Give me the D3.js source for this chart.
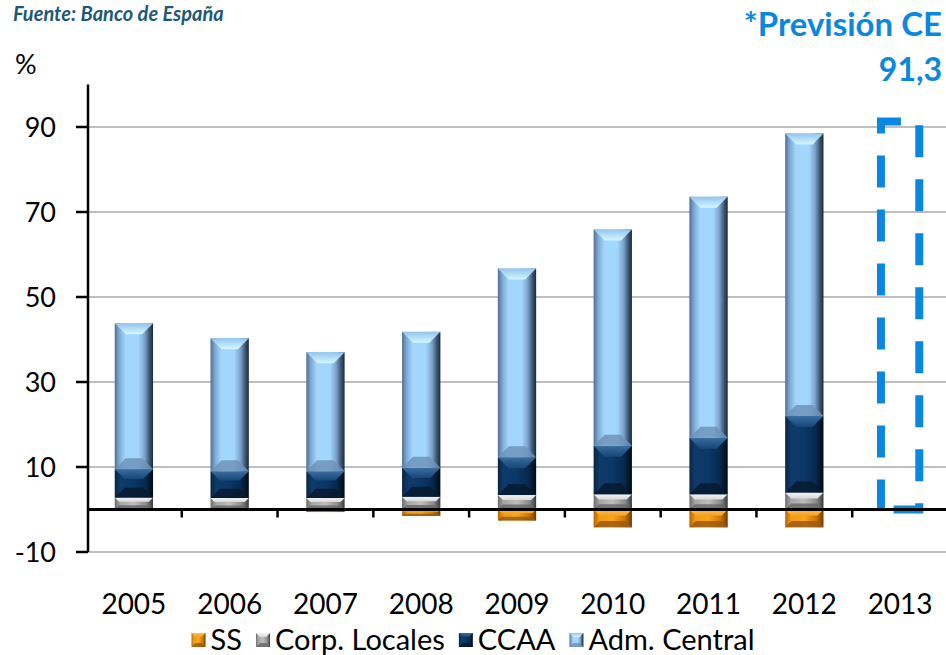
<!DOCTYPE html>
<html>
<head>
<meta charset="utf-8">
<script src="https://cdn.jsdelivr.net/npm/d3@7"></script>
<style>
  body { margin: 0; background: #fff; }
  text { font-family: Lato, "Open Sans", sans-serif; }
</style>
</head>
<body>
<div id="chart"></div>
<script>
const years = ["2005", "2006", "2007", "2008", "2009", "2010", "2011", "2012", "2013"];
const ss          = [0, 0, -0.6, -1.5, -2.6, -4.2, -4.2, -4.2, 0];
const corpLocales = [2.8, 2.7, 2.7, 3.0, 3.4, 3.6, 3.6, 4.0, 0];
const ccaa        = [6.7, 6.3, 6.3, 6.8, 8.9, 11.4, 13.3, 18.0, 0];
const admCentral  = [34.3, 31.3, 28.0, 32.0, 44.4, 50.9, 56.7, 66.5, 0];
const forecastYear = "2013";
const forecastValue = 91.3;
const yTicks = [-10, 10, 30, 50, 70, 90];
const seriesNames = ["SS", "Corp. Locales", "CCAA", "Adm. Central"];

const width = 946, height = 655;
const svg = d3.select("#chart").append("svg")
    .attr("width", width)
    .attr("height", height);

const x = d3.scaleBand().domain(years).range([86, 948]).paddingInner(0.6).paddingOuter(0.3);
const y = d3.scaleLinear().domain([-10, 100]).range([552, 84.5]);

// colour sets for the bevelled look
const palettes = {
    "SS": {
        body: [[0, "#b46500"], [0.15, "#f29a12"], [0.5, "#f8a61e"], [0.82, "#c87500"], [1, "#6a3c00"]],
        top: ["#ffbe50", "#f7a020"], bottom: "#9a5a10"
    },
    "Corp. Locales": {
        body: [[0, "#6c6c6c"], [0.15, "#a6a6a6"], [0.5, "#bebebe"], [0.82, "#8a8a8a"], [1, "#3a3a3a"]],
        top: ["#f4f4f4", "#d8d8d8"], bottom: "#6a6a6a"
    },
    "CCAA": {
        body: [[0, "#0a2442"], [0.15, "#0f3b6a"], [0.5, "#0b3767"], [0.8, "#08284c"], [1, "#010a14"]],
        top: ["#3a6da0", "#174577"], bottom: "#061a30"
    },
    "Adm. Central": {
        body: [[0, "#4f6f95"], [0.12, "#7fa9d4"], [0.28, "#a2d6fd"], [0.62, "#a2d6fd"], [0.78, "#7aa3cc"], [0.9, "#3f5a76"], [1, "#1b2836"]],
        top: ["#92c4ee", "#d5f8ff"], bottom: "#6f93b8"
    }
};

const defs = svg.append("defs");
seriesNames.forEach((name, i) => {
    const p = palettes[name];
    const g = defs.append("linearGradient").attr("id", "body" + i)
        .attr("x1", 0).attr("x2", 1).attr("y1", 0).attr("y2", 0);
    p.body.forEach(s => g.append("stop").attr("offset", s[0]).attr("stop-color", s[1]));
    const t = defs.append("linearGradient").attr("id", "top" + i)
        .attr("x1", 0).attr("x2", 0).attr("y1", 0).attr("y2", 1);
    t.append("stop").attr("offset", 0).attr("stop-color", p.top[0]);
    t.append("stop").attr("offset", 1).attr("stop-color", p.top[1]);
});

function drawSeg(g, sx, sy, w, h, i, depth) {
    if (h <= 0) return;
    const d = Math.min(depth, h * 0.35, w * 0.3);
    g.append("rect").attr("x", sx).attr("y", sy).attr("width", w).attr("height", h)
        .attr("fill", `url(#body${i})`);
    g.append("polygon")
        .attr("points", [[sx, sy], [sx + w, sy], [sx + w - d, sy + d], [sx + d, sy + d]].join(" "))
        .attr("fill", `url(#top${i})`);
    g.append("polygon")
        .attr("points", [[sx, sy + h], [sx + w, sy + h], [sx + w - d, sy + h - d], [sx + d, sy + h - d]].join(" "))
        .attr("fill", palettes[seriesNames[i]].bottom).attr("opacity", 0.85);
}

// gridlines
svg.append("g").selectAll("line")
    .data(yTicks)
    .enter().append("line")
    .attr("x1", 88).attr("x2", width)
    .attr("y1", d => y(d)).attr("y2", d => y(d))
    .attr("stroke", "#bfbfbf").attr("stroke-width", 2);

// stacked bars
const table = years.map((yr, i) => ({
    year: yr,
    "SS": ss[i],
    "Corp. Locales": corpLocales[i],
    "CCAA": ccaa[i],
    "Adm. Central": admCentral[i]
}));
const stacked = d3.stack().keys(seriesNames).offset(d3.stackOffsetDiverging)(table);

const bars = svg.append("g");
stacked.forEach((layer, i) => {
    layer.forEach(d => {
        const top = y(Math.max(d[0], d[1]));
        const bot = y(Math.min(d[0], d[1]));
        drawSeg(bars, x(d.data.year), top, x.bandwidth(), bot - top, i, 11);
    });
});

// forecast box, drawn from the bottom-left corner upwards
const fx0 = x(forecastYear), fx1 = fx0 + x.bandwidth();
bars.append("path")
    .attr("d", `M${fx0},${y(0)}V${y(forecastValue)}H${fx1}V${y(0)}Z`)
    .attr("fill", "none")
    .attr("stroke", "#0a88e0")
    .attr("stroke-width", 8)
    .attr("stroke-dasharray", "32 22")
    .attr("stroke-dashoffset", 2);

// y axis
const yAxis = svg.append("g").attr("transform", "translate(88,0)");
yAxis.append("line").attr("x1", 0).attr("x2", 0).attr("y1", y(100)).attr("y2", y(-10))
    .attr("stroke", "#000").attr("stroke-width", 2.5);
yAxis.selectAll(".tick").data(yTicks).enter().append("line")
    .attr("x1", -12).attr("x2", 0)
    .attr("y1", d => y(d)).attr("y2", d => y(d))
    .attr("stroke", "#000").attr("stroke-width", 2.5);
yAxis.selectAll(".lbl").data(yTicks).enter().append("text")
    .attr("x", -32).attr("y", d => y(d) + 10)
    .attr("text-anchor", "end")
    .attr("font-size", 27)
    .attr("fill", "#000")
    .text(d => d);

// zero line with category ticks
svg.append("line").attr("x1", 88).attr("x2", width).attr("y1", y(0)).attr("y2", y(0))
    .attr("stroke", "#000").attr("stroke-width", 3);
svg.append("g").selectAll("line")
    .data(years.slice(1))
    .enter().append("line")
    .attr("x1", d => x(d) - x.step() * x.paddingInner() / 2)
    .attr("x2", d => x(d) - x.step() * x.paddingInner() / 2)
    .attr("y1", y(0)).attr("y2", y(0) + 8)
    .attr("stroke", "#000").attr("stroke-width", 2.5);

// year labels
svg.append("g").selectAll("text")
    .data(years)
    .enter().append("text")
    .attr("x", d => x(d) + x.bandwidth() / 2)
    .attr("y", 614)
    .attr("text-anchor", "middle")
    .attr("font-size", 28)
    .attr("fill", "#000")
    .text(d => d);

// texts
svg.append("text").attr("x", 13).attr("y", 21)
    .attr("font-size", 20).attr("font-weight", "bold").attr("font-style", "italic")
    .attr("fill", "#1d5878").text("Fuente: Banco de España");
svg.append("text").attr("x", 15).attr("y", 74)
    .attr("font-size", 27).attr("fill", "#000").text("%");
svg.append("text").attr("x", 942).attr("y", 36).attr("text-anchor", "end")
    .attr("font-size", 33).attr("font-weight", "bold")
    .attr("fill", "#0a88e0").text("*Previsión CE");
svg.append("text").attr("x", 942).attr("y", 81).attr("text-anchor", "end")
    .attr("font-size", 32).attr("font-weight", "bold")
    .attr("fill", "#0a88e0").text(d3.format(".1f")(forecastValue).replace(".", ","));

// legend
const legend = svg.append("g");
let lx = 0;
seriesNames.forEach((name, i) => {
    const item = legend.append("g").attr("transform", `translate(${lx},0)`);
    drawSeg(item, 0, -17, 14, 14, i, 4);
    const t = item.append("text").attr("x", 19).attr("y", 0)
        .attr("font-size", 29).attr("fill", "#000").text(name);
    lx += 19 + t.node().getComputedTextLength() + 14;
});
legend.attr("transform", `translate(${473 - (lx - 14) / 2},650)`);
</script>
</body>
</html>
